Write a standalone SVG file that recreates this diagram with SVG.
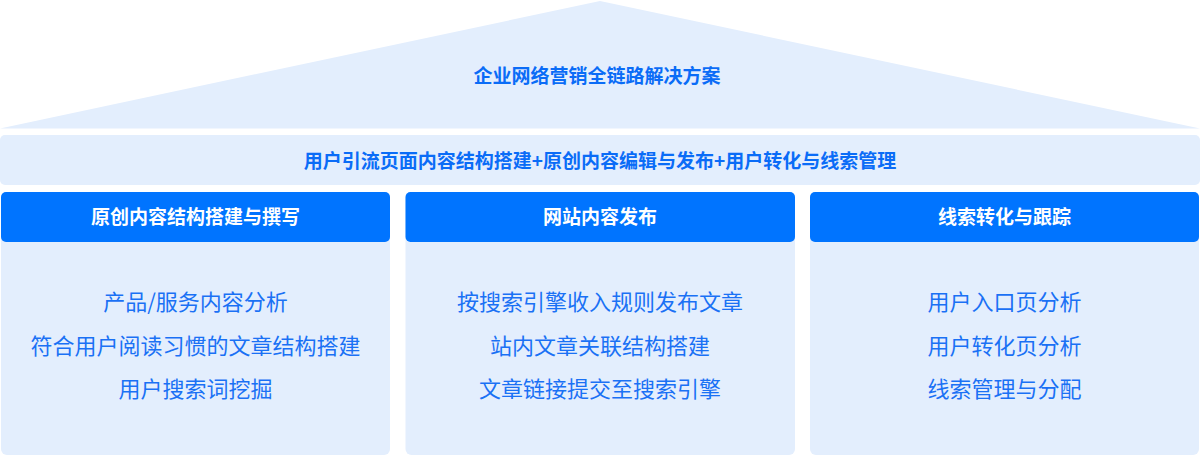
<svg xmlns="http://www.w3.org/2000/svg" width="1200" height="456" viewBox="0 0 1200 456">
  <style>
    .light { fill: #e3eefd; }
    .head { fill: #0074ff; }
    .t { font-family: "Noto Sans CJK SC", "Noto Sans", sans-serif; text-anchor: middle; dominant-baseline: central; }
    .bold { font-weight: 700; font-size: 19px; fill: #0a6cf7; }
    .htxt { font-weight: 700; font-size: 19px; fill: #ffffff; }
    .item { font-weight: 400; font-size: 22px; fill: #1a71f5; }
  </style>
  <rect width="1200" height="456" fill="#ffffff"/>
  <g id="roof">
    <polygon class="light" points="0,128.5 600,1 1200,128.5"/>
    <text class="t bold" x="597" y="74">企业网络营销全链路解决方案</text>
  </g>
  <g id="band">
    <rect class="light" x="0" y="135" width="1200" height="50" rx="5"/>
    <text class="t bold" x="600" y="159">用户引流页面内容结构搭建+原创内容编辑与发布+用户转化与线索管理</text>
  </g>
  <g id="col1">
    <rect class="light" x="1" y="192" width="389" height="263" rx="6"/>
    <rect class="head" x="1" y="192" width="389" height="50" rx="5"/>
    <text class="t htxt" x="195.5" y="215.5">原创内容结构搭建与撰写</text>
    <text class="t item" x="195.5" y="299.8">产品/服务内容分析</text>
    <text class="t item" x="195.5" y="343.6">符合用户阅读习惯的文章结构搭建</text>
    <text class="t item" x="195.5" y="387.3">用户搜索词挖掘</text>
  </g>
  <g id="col2">
    <rect class="light" x="405.5" y="192" width="389.5" height="263" rx="6"/>
    <rect class="head" x="405.5" y="192" width="389.5" height="50" rx="5"/>
    <text class="t htxt" x="600" y="215.5">网站内容发布</text>
    <text class="t item" x="600" y="299.8">按搜索引擎收入规则发布文章</text>
    <text class="t item" x="600" y="343.6">站内文章关联结构搭建</text>
    <text class="t item" x="600" y="387.3">文章链接提交至搜索引擎</text>
  </g>
  <g id="col3">
    <rect class="light" x="810" y="192" width="389" height="263" rx="6"/>
    <rect class="head" x="810" y="192" width="389" height="50" rx="5"/>
    <text class="t htxt" x="1004.5" y="215.5">线索转化与跟踪</text>
    <text class="t item" x="1004.5" y="299.8">用户入口页分析</text>
    <text class="t item" x="1004.5" y="343.6">用户转化页分析</text>
    <text class="t item" x="1004.5" y="387.3">线索管理与分配</text>
  </g>
</svg>
